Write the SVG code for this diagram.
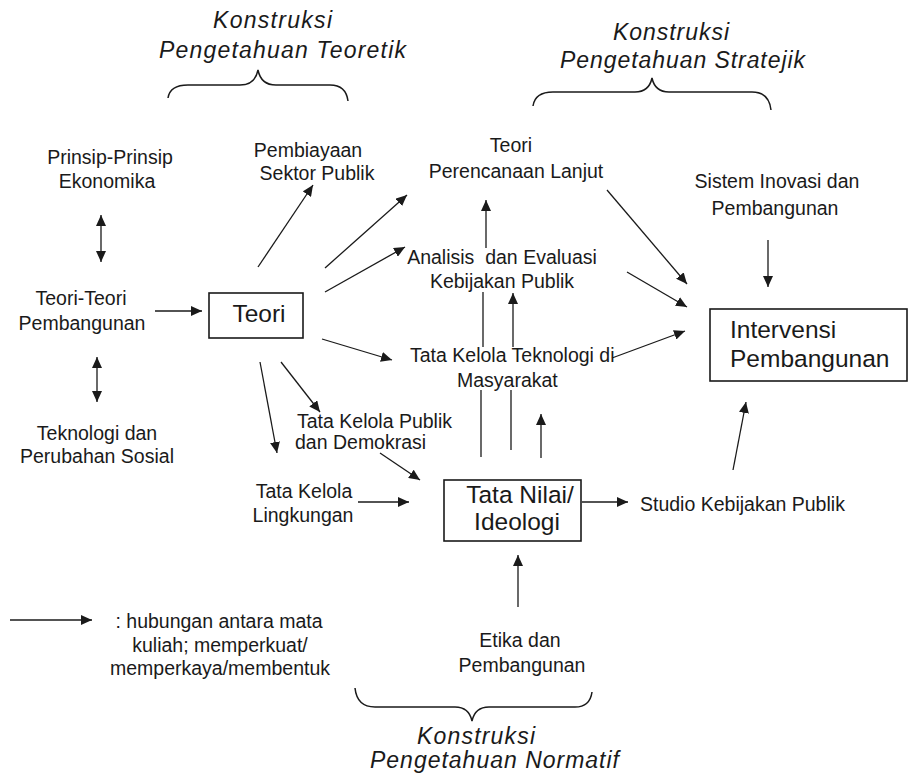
<svg xmlns="http://www.w3.org/2000/svg" width="910" height="777" viewBox="0 0 910 777">
<defs>
<marker id="ah" markerUnits="userSpaceOnUse" markerWidth="12" markerHeight="10" refX="11" refY="5" orient="auto-start-reverse">
<path d="M0,0 L11,5 L0,10 z" fill="#1a1a1a"/>
</marker>
<style>
.t{font-family:"Liberation Sans",Arial,sans-serif;font-size:19.5px;fill:#1a1a1a}
.m{text-anchor:middle}
.big{font-size:24.5px}
.ti{font-family:"Liberation Sans",Arial,sans-serif;font-size:23px;font-style:italic;fill:#1a1a1a}
.box{fill:none;stroke:#1a1a1a;stroke-width:1.6}
.c line{stroke:#1a1a1a;stroke-width:1.3}
.c .a{marker-end:url(#ah)}
.c .d{marker-end:url(#ah);marker-start:url(#ah)}
.br{fill:none;stroke:#1a1a1a;stroke-width:1.5}
</style>
</defs>
<rect width="910" height="777" fill="#ffffff"/>

<g id="title-teoretik">
<text class="ti" x="213" y="28" textLength="119" lengthAdjust="spacing">Konstruksi</text>
<text class="ti" x="159" y="58" textLength="247" lengthAdjust="spacing">Pengetahuan Teoretik</text>
<path class="br" d="M168,98 Q170,85 188,85 L240,85 Q255,85 258,70 Q261,85 276,85 L330,85 Q346,85 348,101"/>
</g>
<g id="title-stratejik">
<text class="ti" x="613" y="40" textLength="116" lengthAdjust="spacing">Konstruksi</text>
<text class="ti" x="560" y="68" textLength="245" lengthAdjust="spacing">Pengetahuan Stratejik</text>
<path class="br" d="M533,106 Q535,92 553,92 L635,92 Q649,92 652,78 Q655,92 669,92 L752,92 Q769,92 771,110"/>
</g>
<g id="title-normatif">
<path class="br" d="M355,688 Q357,707 375,707 L455,707 Q469,707 472,721 Q475,707 489,707 L575,707 Q590,707 592,692"/>
<text class="ti" x="417" y="744" textLength="118" lengthAdjust="spacing">Konstruksi</text>
<text class="ti" x="370" y="768" textLength="249" lengthAdjust="spacing">Pengetahuan Normatif</text>
</g>

<g id="prinsip">
<text class="t m" x="110" y="164">Prinsip-Prinsip</text>
<text class="t m" x="107" y="188">Ekonomika</text>
</g>
<g id="teori-pembangunan">
<text class="t m" x="81" y="305">Teori-Teori</text>
<text class="t m" x="82" y="330">Pembangunan</text>
</g>
<g id="teknologi-sosial">
<text class="t m" x="97" y="440">Teknologi dan</text>
<text class="t m" x="97" y="463">Perubahan Sosial</text>
</g>
<g id="pembiayaan">
<text class="t m" x="308" y="157">Pembiayaan</text>
<text class="t m" x="317" y="180">Sektor Publik</text>
</g>
<g id="teori-perencanaan">
<text class="t m" x="511" y="152">Teori</text>
<text class="t m" x="516" y="178">Perencanaan Lanjut</text>
</g>
<g id="sistem-inovasi">
<text class="t m" x="777" y="188">Sistem Inovasi dan</text>
<text class="t m" x="775" y="215">Pembangunan</text>
</g>
<g id="analisis">
<text class="t m" x="502" y="264" xml:space="preserve">Analisis  dan Evaluasi</text>
<text class="t m" x="502" y="288">Kebijakan Publik</text>
</g>
<g id="teknologi-masyarakat">
<text class="t" x="410" y="362">Tata Kelola Teknologi di</text>
<text class="t" x="457" y="387">Masyarakat</text>
</g>
<g id="publik-demokrasi">
<text class="t" x="297" y="428">Tata Kelola Publik</text>
<text class="t" x="295" y="449">dan Demokrasi</text>
</g>
<g id="lingkungan">
<text class="t m" x="304" y="498">Tata Kelola</text>
<text class="t m" x="303" y="522">Lingkungan</text>
</g>
<g id="studio">
<text class="t" x="640" y="511">Studio Kebijakan Publik</text>
</g>
<g id="etika">
<text class="t m" x="520" y="647">Etika dan</text>
<text class="t m" x="522" y="672">Pembangunan</text>
</g>
<g id="teori">
<rect class="box" x="209" y="293" width="94" height="45"/>
<text class="t m big" x="259" y="322">Teori</text>
</g>
<g id="intervensi">
<rect class="box" x="710" y="309" width="197" height="72"/>
<text class="t big" x="730" y="338">Intervensi</text>
<text class="t big" x="730" y="367">Pembangunan</text>
</g>
<g id="tata-nilai">
<rect class="box" x="444" y="480" width="137" height="61"/>
<text class="t m big" x="520" y="503">Tata Nilai/</text>
<text class="t m big" x="517" y="530">Ideologi</text>
</g>
<g id="legend">
<text class="t m" x="219" y="628">: hubungan antara mata</text>
<text class="t m" x="220" y="652">kuliah; memperkuat/</text>
<text class="t m" x="220" y="675">memperkaya/membentuk</text>
</g>

<g id="connectors" class="c">
<line class="d" x1="101" y1="215" x2="101" y2="262"/>
<line class="d" x1="97" y1="357" x2="97" y2="402"/>
<line class="a" x1="155" y1="311" x2="202" y2="311"/>
<line class="a" x1="258" y1="267" x2="313" y2="185"/>
<line class="a" x1="325" y1="268" x2="407" y2="195"/>
<line class="a" x1="325" y1="292" x2="405" y2="247"/>
<line class="a" x1="322" y1="339" x2="392" y2="360"/>
<line class="a" x1="281" y1="362" x2="320" y2="412"/>
<line class="a" x1="260" y1="362" x2="277" y2="453"/>
<line class="a" x1="380" y1="453" x2="420" y2="480"/>
<line class="a" x1="358" y1="502" x2="409" y2="502"/>
<line class="a" x1="582" y1="502" x2="628" y2="502"/>
<line class="a" x1="733" y1="470" x2="746" y2="402"/>
<line class="a" x1="518" y1="607" x2="518" y2="555"/>
<line x1="481" y1="457" x2="481" y2="390"/>
<line x1="511" y1="450" x2="511" y2="390"/>
<line class="a" x1="541" y1="458" x2="541" y2="414"/>
<line x1="483" y1="347" x2="483" y2="292"/>
<line class="a" x1="513" y1="347" x2="513" y2="293"/>
<line class="a" x1="486" y1="248" x2="486" y2="200"/>
<line class="a" x1="607" y1="190" x2="687" y2="284"/>
<line class="a" x1="627" y1="272" x2="687" y2="307"/>
<line class="a" x1="612" y1="358" x2="685" y2="331"/>
<line class="a" x1="768" y1="240" x2="768" y2="287"/>
<line class="a" x1="10" y1="620" x2="92" y2="620"/>
</g>
</svg>
